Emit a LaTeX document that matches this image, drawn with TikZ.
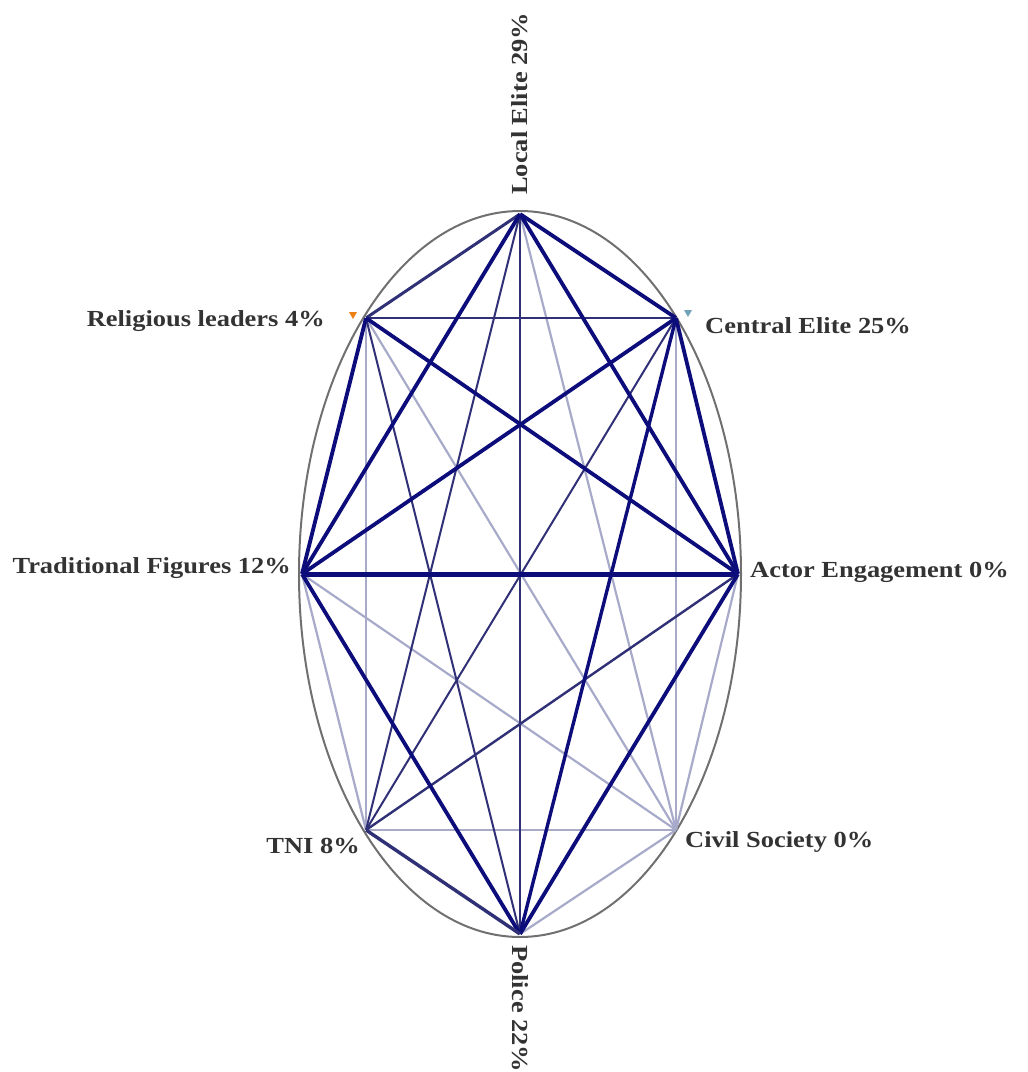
\documentclass[tikz,border=0pt]{standalone}
\usepackage{fontspec}
\setmainfont[FakeStretch=1.15]{Liberation Serif}
\usepackage{xcolor}
\usetikzlibrary{positioning}
\definecolor{navyDark}{RGB}{12,12,122}
\definecolor{navyMid}{RGB}{48,48,118}
\definecolor{lavFaint}{RGB}{168,170,202}
\definecolor{rimGray}{RGB}{112,112,112}
\tikzset{
  actor/.style  = {circle, inner sep=0pt, minimum size=0pt},
  lbl/.style    = {inner sep=0pt, font=\bfseries\fontsize{23}{26}\selectfont,
                   text=black!80},
  strong/.style = {navyDark, line width=3.8pt},
  mid/.style    = {navyMid, line width=2.4pt},
  faint/.style  = {lavFaint, line width=2.2pt},
  rim/.style    = {rimGray, line width=2pt}
}

\begin{document}
\begin{tikzpicture}[x=1pt, y=-1pt]
\useasboundingbox (0,0) rectangle (1028,1072);

% --- OUTER ELLIPSE ---
\draw[rim] (520,574) ellipse [x radius=221, y radius=363];

% --- ACTORS ---
\node[actor] (le)  at (520,214) {};
\node[actor] (ce)  at (676,318) {};
\node[actor] (ae)  at (738,574) {};
\node[actor] (cs)  at (676,830) {};
\node[actor] (po)  at (520,934) {};
\node[actor] (tni) at (366,830) {};
\node[actor] (tf)  at (302,574) {};
\node[actor] (rl)  at (366,318) {};

% --- FAINT TIES ---
\draw[faint] (le) -- (cs);
\draw[faint] (rl) -- (cs);
\draw[faint] (rl) -- (tni);
\draw[faint] (ce) -- (cs);
\draw[faint] (ae) -- (cs);
\draw[faint] (tf) -- (tni);
\draw[faint] (tf) -- (cs);
\draw[faint] (tni) -- (cs);
\draw[faint] (cs) -- (po);

% --- MEDIUM TIES ---
\draw[mid, line width=3pt] (le) -- (rl);
\draw[mid, line width=2.8pt] (rl) -- (ce);
\draw[mid] (le) -- (po);
\draw[mid, line width=2pt] (le) -- (tni);
\draw[mid, line width=2pt] (rl) -- (po);
\draw[mid, line width=2pt] (ce) -- (tni);
\draw[mid] (ae) -- (tni);

% --- STRONG TIES ---
\draw[strong] (le) -- (ce);
\draw[strong] (le) -- (ae);
\draw[strong] (le) -- (tf);
\draw[strong] (rl) -- (ae);
\draw[strong] (rl) -- (tf);
\draw[strong] (ce) -- (ae);
\draw[strong, line width=3.4pt] (ce) -- (po);
\draw[strong] (ce) -- (tf);
\draw[strong] (ae) -- (po);
\draw[strong] (tf) -- (po);
\draw[strong, navyMid, line width=3.4pt] (tni) -- (po);
\draw[strong, line width=5pt] (tf) -- (ae);

% --- SMALL MARKERS ---
\fill[orange!70!brown] (349,312) -- (357,312) -- (353,319) -- cycle;
\fill[cyan!40!gray] (684,310) -- (692,310) -- (688,317) -- cycle;

% --- LABELS ---
\node[lbl, anchor=base west, rotate=90]  (le-lbl)  at (527,195) {Local Elite 29\%};
\node[lbl, anchor=base west]             (ce-lbl)  at (705,333) {Central Elite 25\%};
\node[lbl, anchor=base west]             (ae-lbl)  at (750,577) {Actor Engagement 0\%};
\node[lbl, anchor=base west]             (cs-lbl)  at (685,847) {Civil Society 0\%};
\node[lbl, anchor=base west, rotate=-90] (po-lbl)  at (512,945) {Police 22\%};
\node[lbl, anchor=base east]             (tni-lbl) at (360,853) {TNI 8\%};
\node[lbl, anchor=base east]             (tf-lbl)  at (291,573) {Traditional Figures 12\%};
\node[lbl, anchor=base east]             (rl-lbl)  at (325,326) {Religious leaders 4\%};
\end{tikzpicture}
\end{document}
